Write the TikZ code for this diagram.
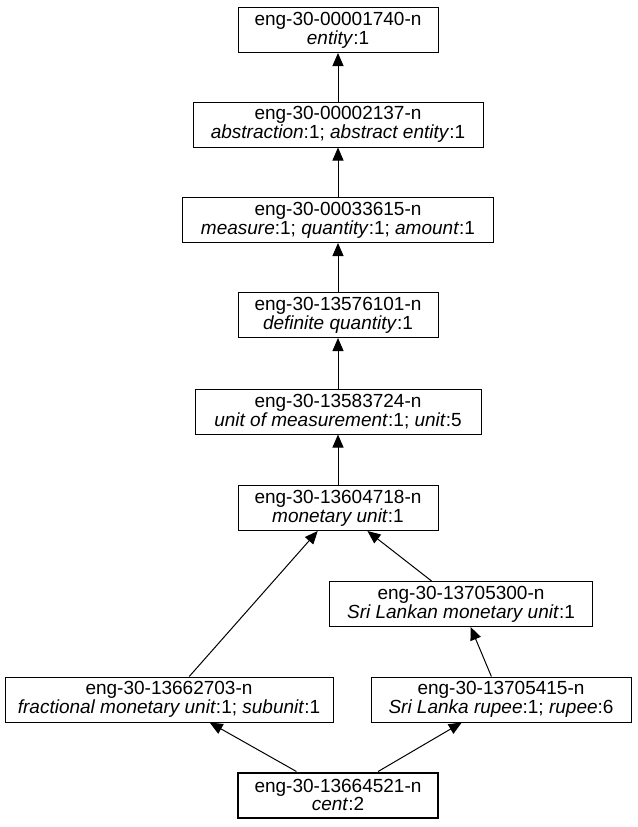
\documentclass[tikz,border=0pt]{standalone}
\usepackage{fontspec}
\setmainfont{Liberation Sans}
\usetikzlibrary{arrows.meta}

\tikzset{
  synset/.style={draw, rectangle, line width=1pt, minimum height=45pt, inner sep=0pt,
    align=center, font=\fontsize{19}{17}\selectfont},
  hyper/.style={line width=1pt, -{Triangle[length=13pt,width=11pt]}}
}

\begin{document}
\begin{tikzpicture}[x=1pt, y=-1pt]
    \useasboundingbox (0,0) rectangle (637,827);
    % synsets
    \node[synset, minimum width=200pt] (entity) at (338,30) {eng-30-00001740-n\\\textit{entity}:1};
    \node[synset, minimum width=290pt] (abstraction) at (338,124.5) {eng-30-00002137-n\\\textit{abstraction}:1; \textit{abstract entity}:1};
    \node[synset, minimum width=311pt] (measure) at (338,220) {eng-30-00033615-n\\\textit{measure}:1; \textit{quantity}:1; \textit{amount}:1};
    \node[synset, minimum width=200pt] (definite) at (338,315) {eng-30-13576101-n\\\textit{definite quantity}:1};
    \node[synset, minimum width=286pt] (unit) at (338,411.5) {eng-30-13583724-n\\\textit{unit of measurement}:1; \textit{unit}:5};
    \node[synset, minimum width=200pt] (monetary) at (338,508) {eng-30-13604718-n\\\textit{monetary unit}:1};
    \node[synset, minimum width=263pt] (srilankan) at (461,604) {eng-30-13705300-n\\\textit{Sri Lankan monetary unit}:1};
    \node[synset, minimum width=328pt] (fractional) at (169,699.5) {eng-30-13662703-n\\\textit{fractional monetary unit}:1; \textit{subunit}:1};
    \node[synset, minimum width=260pt] (rupee) at (501,699.5) {eng-30-13705415-n\\\textit{Sri Lanka rupee}:1; \textit{rupee}:6};
    \node[synset, minimum width=200pt, line width=2pt] (cent) at (338,795) {eng-30-13664521-n\\\textit{cent}:2};
    % hypernym links
    \draw[hyper] (abstraction) -- (entity);
    \draw[hyper] (measure) -- (abstraction);
    \draw[hyper] (definite) -- (measure);
    \draw[hyper] (unit) -- (definite);
    \draw[hyper] (monetary) -- (unit);
    \draw[hyper] (srilankan) -- (monetary);
    \draw[hyper] (fractional) -- (monetary);
    \draw[hyper] (rupee) -- (srilankan);
    \draw[hyper] (cent) -- (fractional);
    \draw[hyper] (cent) -- (rupee);
\end{tikzpicture}
\end{document}
